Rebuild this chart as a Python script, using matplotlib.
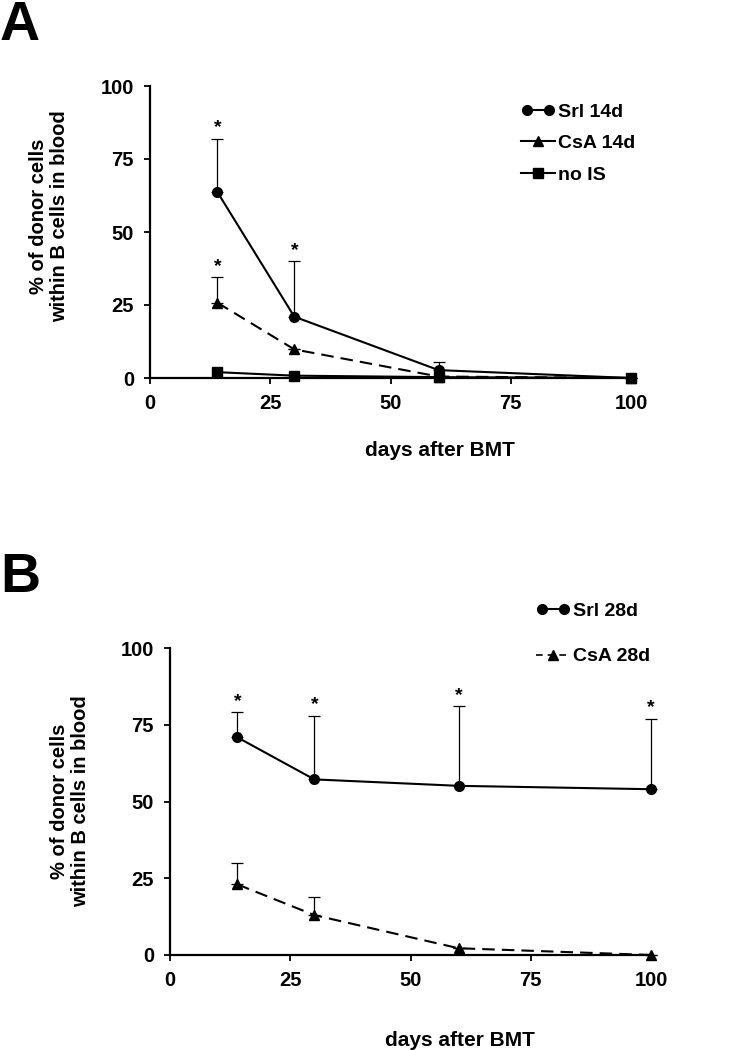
import matplotlib
matplotlib.use("Agg")
import matplotlib.pyplot as plt
from matplotlib.lines import Line2D
from matplotlib.legend_handler import HandlerLine2D

plt.rcParams['font.family'] = ['Liberation Sans', 'DejaVu Sans']
plt.rcParams['font.weight'] = 'bold'

# ---- data ----
days = [14, 30, 60, 100]
# Panel A
srl14_mean = [63.7, 21, 2.7, 0]
srl14_err = [18.3, 19, 2.9, 0]
csa14_mean = [25.8, 9.8, 0.5, 0]
csa14_err = [8.9, 0, 0, 0]
nois_mean = [2, 0.8, 0.3, 0]
nois_err = [0, 0, 0, 0]
a_stars = [(14, 82), (14, 34.7), (30, 40)]
# Panel B
srl28_mean = [70.9, 57.2, 55.1, 54]
srl28_err = [8.1, 20.8, 25.9, 23]
csa28_mean = [23, 13, 2.2, 0]
csa28_err = [7, 6, 0, 0]
b_stars = [(14, 79), (30, 78), (60, 81), (100, 77)]

xticks = [0, 25, 50, 75, 100]
yticks = [0, 25, 50, 75, 100]
ylabel = "% of donor cells\nwithin B cells in blood"
xlabel = "days after BMT"

W, H = 754, 1050
fig = plt.figure(figsize=(W / 100, H / 100), dpi=100)

TICK_FS = 14.5
LAB_FS = 15
LEG_FS = 14


def fx(px):
    return px / W


def fy(py):
    return 1 - py / H


def make_ax(left, right, top, bottom):
    ax = fig.add_axes([fx(left), fy(bottom), fx(right - left), (bottom - top) / H])
    ax.set_xlim(0, 100)
    ax.set_ylim(0, 100)
    ax.set_xticks(xticks)
    ax.set_yticks(yticks)
    for s in ['top', 'right']:
        ax.spines[s].set_visible(False)
    for s in ['left', 'bottom']:
        ax.spines[s].set_linewidth(1.6)
    ax.tick_params(direction='out', length=4, width=1.3, labelsize=TICK_FS, pad=7.5)
    for lab in ax.get_xticklabels() + ax.get_yticklabels():
        lab.set_fontweight('bold')
    return ax


DASH = (6, 3.4)
LW = 1.5


def series(ax, y, e, marker, dashed=False, ms=7):
    kw = dict(color='black', lw=LW, marker=marker, ms=ms, clip_on=False, zorder=3)
    if dashed:
        kw['dashes'] = DASH
    ax.plot(days, y, **kw)
    if any(v > 0 for v in e):
        ax.errorbar(days, y, yerr=[[0] * len(e), e], fmt='none', ecolor='black',
                    elinewidth=0.9, capsize=4, capthick=0.9, clip_on=False, zorder=2)


def stars(ax, pts):
    for x, y in pts:
        ax.annotate('*', (x, y), xytext=(0, 1.5), textcoords='offset points',
                    ha='center', va='bottom', fontsize=14, fontweight='bold',
                    annotation_clip=False)


# ---- Panel A ----
axA = make_ax(150, 631, 86, 378)
series(axA, srl14_mean, srl14_err, 'o')
series(axA, csa14_mean, csa14_err, '^', dashed=True, ms=7.5)
series(axA, nois_mean, nois_err, 's', ms=6.5)
stars(axA, a_stars)

hA1 = Line2D([], [], color='black', lw=LW, marker='o', ms=7)
hA2 = Line2D([], [], color='black', lw=LW, marker='^', ms=7)
hA3 = Line2D([], [], color='black', lw=LW, marker='s', ms=6.5)
legA = fig.legend([hA1, hA2, hA3], ['Srl 14d', 'CsA 14d', 'no IS'],
                  loc='upper left', bbox_to_anchor=(fx(521), fy(103)),
                  frameon=False, borderpad=0, borderaxespad=0,
                  handlelength=1.75, handletextpad=0.15, labelspacing=0.72,
                  prop={'size': LEG_FS, 'weight': 'bold'},
                  handler_map={hA1: HandlerLine2D(numpoints=2),
                               hA2: HandlerLine2D(numpoints=1),
                               hA3: HandlerLine2D(numpoints=1)})

fig.text(fx(440), fy(451), xlabel, ha='center', va='center', fontsize=LAB_FS, fontweight='bold')
fig.text(fx(49), fy(216), ylabel, ha='center', va='center', rotation=90,
         multialignment='center', fontsize=14.5, fontweight='bold', linespacing=1.12)
fig.text(fx(0), fy(40), 'A', ha='left', va='baseline', fontsize=40, fontweight='bold')

# ---- Panel B ----
axB = make_ax(170, 651, 648, 955)
series(axB, srl28_mean, srl28_err, 'o')
series(axB, csa28_mean, csa28_err, '^', dashed=True, ms=7.5)
stars(axB, b_stars)

hB1 = Line2D([], [], color='black', lw=LW, marker='o', ms=7)
hB2 = Line2D([], [], color='black', lw=1.2, marker='^', ms=7, dashes=(4, 3))
legB = fig.legend([hB1, hB2], ['Srl 28d', 'CsA 28d'],
                  loc='upper left', bbox_to_anchor=(fx(536), fy(602)),
                  frameon=False, borderpad=0, borderaxespad=0,
                  handlelength=1.75, handletextpad=0.15, labelspacing=1.45,
                  prop={'size': LEG_FS, 'weight': 'bold'},
                  handler_map={hB1: HandlerLine2D(numpoints=2),
                               hB2: HandlerLine2D(numpoints=1)})

fig.text(fx(460), fy(1041), xlabel, ha='center', va='center', fontsize=LAB_FS, fontweight='bold')
fig.text(fx(70), fy(801), ylabel, ha='center', va='center', rotation=90,
         multialignment='center', fontsize=14.5, fontweight='bold', linespacing=1.12)
fig.text(fx(0), fy(592), 'B', ha='left', va='baseline', fontsize=40, fontweight='bold')

fig.savefig('out.png', dpi=100)
